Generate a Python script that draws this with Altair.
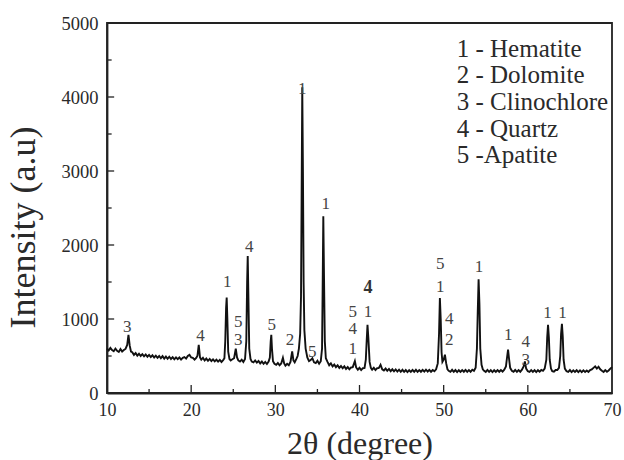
import altair as alt
import pandas as pd

# ---- XRD pattern (2θ, intensity) ----
two_theta = [
    10.0, 10.2, 10.4, 10.6, 10.8, 11.0, 11.2, 11.4, 11.6, 11.8, 12.0, 12.2,
    12.4, 12.55, 12.7, 12.85,
    13.0, 13.2, 13.4, 13.6, 13.8, 14.0, 14.2, 14.4, 14.6, 14.8, 15.0, 15.2, 15.4, 15.6, 15.8,
    16.0, 16.2, 16.4, 16.6, 16.8, 17.0, 17.2, 17.4, 17.6, 17.8, 18.0, 18.2, 18.4, 18.6, 18.8,
    19.0, 19.2, 19.4, 19.6, 19.8, 20.0, 20.2, 20.4, 20.6, 20.75, 20.9, 21.05, 21.2, 21.4, 21.6,
    21.8, 22.0, 22.2, 22.4, 22.6, 22.8, 23.0, 23.2, 23.4, 23.6, 23.8, 23.95,
    24.05, 24.15, 24.22, 24.3, 24.4, 24.55,
    24.7, 24.9, 25.1, 25.3, 25.45, 25.6, 25.8, 26.0, 26.2, 26.4,
    26.55, 26.65, 26.72, 26.8, 26.9, 27.05,
    27.2, 27.4, 27.6, 27.8, 28.0, 28.2, 28.4, 28.6, 28.8, 29.0, 29.2, 29.35,
    29.45, 29.52, 29.6, 29.72,
    29.9, 30.1, 30.3, 30.5, 30.7, 30.9, 31.05, 31.2, 31.4, 31.6, 31.8, 32.0, 32.15, 32.3, 32.5, 32.65,
    32.8, 32.95, 33.05, 33.12, 33.2, 33.28, 33.36, 33.45, 33.6, 33.8,
    34.0, 34.2, 34.4, 34.6, 34.8, 35.0, 35.2, 35.4, 35.55,
    35.62, 35.7, 35.78, 35.88, 36.0,
    36.2, 36.4, 36.6, 36.8, 37.0, 37.2, 37.4, 37.6, 37.8, 38.0, 38.2, 38.4, 38.6, 38.8, 39.0,
    39.2, 39.45, 39.6, 39.8, 40.0, 40.2, 40.4, 40.6, 40.75,
    40.85, 40.95, 41.05, 41.2, 41.35,
    41.5, 41.7, 41.9, 42.1, 42.3, 42.5, 42.7, 42.9, 43.1, 43.3, 43.5, 43.7, 43.9, 44.1, 44.3,
    44.5, 44.7, 44.9, 45.1, 45.3, 45.5, 45.7, 45.9, 46.1, 46.3, 46.5, 46.7, 46.9, 47.1, 47.3,
    47.5, 47.7, 47.9, 48.1, 48.3, 48.5, 48.7, 48.9, 49.1, 49.3,
    49.45, 49.55, 49.65, 49.75, 49.85, 50.0, 50.15, 50.3, 50.45,
    50.6, 50.8, 51.0, 51.2, 51.4, 51.6, 51.8, 52.0, 52.2, 52.4, 52.6, 52.8, 53.0, 53.2, 53.4,
    53.6, 53.8, 53.95,
    54.05, 54.15, 54.25, 54.35, 54.5, 54.65,
    54.8, 55.0, 55.2, 55.4, 55.6, 55.8, 56.0, 56.2, 56.4, 56.6, 56.8, 57.0, 57.2, 57.4,
    57.55, 57.65, 57.75, 57.9, 58.1,
    58.3, 58.5, 58.7, 58.9, 59.1, 59.3, 59.5, 59.65, 59.8, 60.0, 60.2, 60.4, 60.6, 60.8, 61.0,
    61.2, 61.4, 61.6, 61.8, 62.0, 62.2,
    62.3, 62.4, 62.5, 62.6, 62.75,
    62.9, 63.1, 63.3, 63.5, 63.7, 63.85,
    63.95, 64.05, 64.15, 64.25, 64.4,
    64.6, 64.8, 65.0, 65.2, 65.4, 65.6, 65.8, 66.0, 66.2, 66.4, 66.6, 66.8, 67.0, 67.2, 67.4,
    67.6, 67.8, 68.0, 68.2, 68.4, 68.6, 68.8, 69.0, 69.2, 69.4, 69.6, 69.8, 70.0,
]
intensity = [
    600, 575, 610, 580, 565, 600, 570, 555, 595, 560, 580, 595,
    650, 787, 640, 560,
    550, 515, 540, 505, 530, 500, 525, 495, 520, 490, 515, 485, 510, 480, 505,
    475, 500, 470, 498, 465, 492, 462, 490, 460, 485, 455, 482, 458, 480, 452,
    475, 485, 465, 500, 515, 480, 475, 450, 475, 505, 650, 480, 450, 475, 440,
    465, 435, 460, 432, 455, 428, 452, 425, 448, 420, 445, 470,
    700, 1150, 1290, 1000, 560, 460,
    440, 455, 470, 598, 480, 440, 425, 450, 420, 460,
    700, 1500, 1850, 1300, 600, 460,
    425, 415, 440, 410, 432, 400, 425, 395, 420, 392, 425, 480,
    700, 787, 600, 430,
    395, 380, 405, 375, 400, 476, 400, 370, 395, 375, 420, 561, 440, 415, 460, 500,
    600, 800, 1300, 2600, 4130, 3000, 1500, 850, 600, 480,
    430, 445, 470, 415, 405, 435, 395, 430, 600,
    1400, 2390, 1600, 700, 470,
    420, 375, 400, 360, 385, 350, 375, 340, 365, 335, 360, 325, 350, 320, 345,
    350, 430, 345, 315, 340, 310, 335, 340, 450,
    700, 920, 750, 420, 340,
    315, 340, 310, 335, 340, 382, 320, 305, 330, 300, 325, 295, 320, 292, 318,
    290, 315, 287, 313, 285, 310, 283, 308, 285, 311, 287, 313, 285, 310, 287,
    312, 288, 315, 290, 313, 287, 310, 293, 320, 400,
    800, 1282, 1000, 550, 420, 450, 517, 400, 320,
    300, 287, 313, 285, 310, 283, 308, 285, 310, 287, 312, 285, 310, 287, 315,
    300, 340, 600,
    1100, 1538, 1200, 600, 380, 320,
    300, 285, 311, 285, 309, 283, 308, 285, 310, 287, 311, 290, 315, 360,
    500, 585, 480, 340, 300,
    287, 311, 285, 310, 287, 315, 360, 427, 330, 295, 285, 310, 285, 309, 283,
    308, 287, 311, 300, 330, 450,
    750, 922, 750, 450, 330,
    295, 287, 311, 310, 340, 500,
    800, 935, 760, 450, 330,
    295, 285, 310, 283, 307, 285, 308, 282, 305, 283, 307, 285, 305, 285, 310,
    320, 340, 360, 330, 355, 320, 300, 285, 310, 287, 305, 330, 350,
]

# ---- peak phase labels ----
lab_x = [12.4, 21.1, 24.3, 25.6, 25.6, 26.9, 29.56, 31.75, 33.2, 34.4, 36.0,
         39.2, 39.2, 39.2, 41.0, 49.6, 49.6, 50.65, 50.65, 54.2, 57.66,
         59.76, 59.76, 62.34, 64.12]
lab_y = [895, 773, 1502, 966, 710, 1970, 922, 710, 4110, 553, 2555,
         1100, 868, 595, 1093, 1741, 1430, 1003, 719, 1700, 787,
         695, 449, 1080, 1080]
lab_t = ["3", "4", "1", "5", "3", "4", "5", "2", "1", "5", "1",
         "5", "4", "1", "1", "5", "1", "4", "2", "1", "1",
         "4", "3", "1", "1"]
# the one label printed in bold
bold_x = [41.0]
bold_y = [1417]
bold_t = ["4"]

# ---- legend text ----
key_text = ["1 - Hematite", "2 - Dolomite", "3 - Clinochlore", "4 - Quartz", "5 -Apatite"]
key_x = [51.55] * 5
key_y = [4543, 4188, 3823, 3463, 3108]

# ---- inner tick marks ----
x_major = [20, 30, 40, 50, 60]
x_minor = [15, 25, 35, 45, 55, 65]
y_major = [1000, 2000, 3000, 4000]
y_minor = [500, 1500, 2500, 3500, 4500]

FONT = "Liberation Serif"
INK = "#2a2a2a"

xs = alt.Scale(domain=[10, 70], nice=False, zero=False)
ys = alt.Scale(domain=[0, 5000], nice=False)

df = pd.DataFrame({"tt": two_theta, "I": intensity})
xaxis = alt.Axis(values=[10, 20, 30, 40, 50, 60, 70], ticks=False, grid=False,
                 labelFontSize=18, labelPadding=8, labelFlush=False,
                 title="2θ (degree)", format="d",
                 titleFontSize=32, titleFontWeight="normal", titleY=50,
                 titleBaseline="middle")
yaxis = alt.Axis(values=[0, 1000, 2000, 3000, 4000, 5000], ticks=False, grid=False,
                 labelFontSize=18.5, labelPadding=9, labelFlush=False,
                 title="Intensity (a.u)", format="d",
                 titleFontSize=36, titleFontWeight="normal", titleX=-84, titleY=204,
                 titleAlign="center", titleAnchor="middle",
                 titleBaseline="middle")

line = alt.Chart(df).mark_line(color="#111", strokeWidth=1.9).encode(
    x=alt.X("tt:Q", scale=xs, axis=xaxis),
    y=alt.Y("I:Q", scale=ys, axis=yaxis),
)

labels = alt.Chart(pd.DataFrame({"x": lab_x, "y": lab_y, "t": lab_t})).mark_text(
    font=FONT, fontSize=17, color="#444", baseline="middle", align="center"
).encode(x=alt.X("x:Q", scale=xs), y=alt.Y("y:Q", scale=ys), text="t:N")

bold = alt.Chart(pd.DataFrame({"x": bold_x, "y": bold_y, "t": bold_t})).mark_text(
    font=FONT, fontSize=18, color="#333", baseline="middle", align="center",
    fontWeight="bold"
).encode(x=alt.X("x:Q", scale=xs), y=alt.Y("y:Q", scale=ys), text="t:N")

key = alt.Chart(pd.DataFrame({"x": key_x, "y": key_y, "t": key_text})).mark_text(
    font=FONT, fontSize=25, color=INK, baseline="alphabetic", align="left"
).encode(x=alt.X("x:Q", scale=xs), y=alt.Y("y:Q", scale=ys), text="t:N")

xt = pd.DataFrame({"x": x_major + x_minor,
                   "y0": [0] * 11,
                   "y1": [108] * 5 + [54] * 6})
xticks = alt.Chart(xt).mark_rule(color="#222", strokeWidth=1.3).encode(
    x=alt.X("x:Q", scale=xs), y=alt.Y("y0:Q", scale=ys), y2="y1:Q")

yt = pd.DataFrame({"y": y_major + y_minor,
                   "x0": [10] * 9,
                   "x1": [10.85] * 4 + [10.55] * 5})
yticks = alt.Chart(yt).mark_rule(color="#222", strokeWidth=1.3).encode(
    y=alt.Y("y:Q", scale=ys), x=alt.X("x0:Q", scale=xs), x2="x1:Q")

chart = alt.layer(line, xticks, yticks, labels, bold, key).properties(
    width=505, height=370,
    autosize=alt.AutoSizeParams(type="none"),
    padding={"left": 107, "top": 23, "right": 12, "bottom": 67},
    background="white",
).configure_view(stroke="#222", strokeWidth=1.8).configure_axis(
    labelFont=FONT, titleFont=FONT, labelColor=INK, titleColor=INK,
    domainColor="#222", domainWidth=1.8,
)

chart.save("out.html", embed_options={"renderer": "svg", "actions": False})
